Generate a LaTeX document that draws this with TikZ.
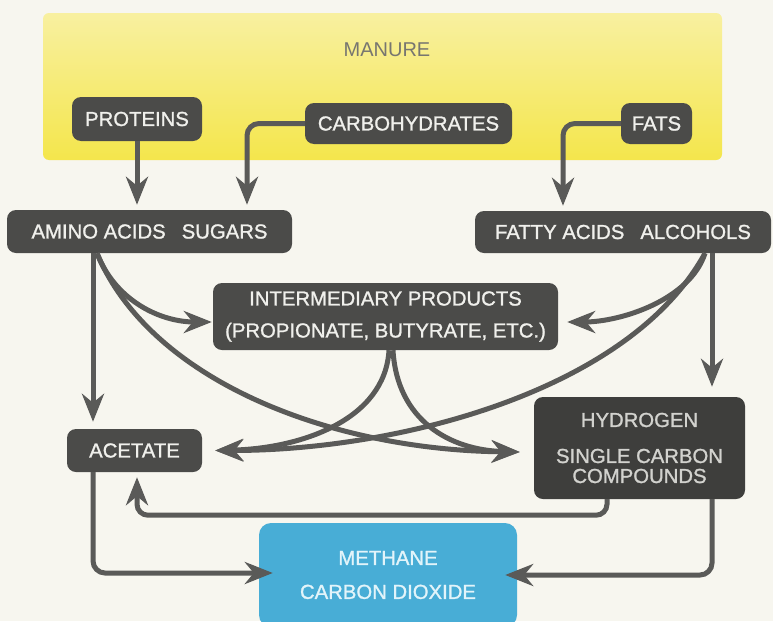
\documentclass[tikz,border=0pt]{standalone}
\usepackage{fontspec}
\setmainfont{Liberation Sans}
\newfontfamily\boxfont[FakeBold=1.2]{Liberation Sans}
\usetikzlibrary{arrows.meta,calc}
\definecolor{bg}{HTML}{F7F6EF}
\definecolor{boxg}{HTML}{4B4B49}
\definecolor{hydg}{HTML}{3E3E3C}
\definecolor{hydtext}{HTML}{D2D2CE}
\definecolor{boxtext}{HTML}{F0F0EC}
\definecolor{lineg}{HTML}{5A5A58}
\definecolor{ylwtop}{HTML}{F8F0A0}
\definecolor{ylwbot}{HTML}{F4E64C}
\definecolor{blu}{HTML}{48ADD6}
\definecolor{blutext}{HTML}{E2F4FA}
\definecolor{mantext}{HTML}{777670}
\begin{document}
\begin{tikzpicture}[x=1pt,y=-1pt,
  box/.style={draw=none, fill=boxg, rounded corners=9pt, text=boxtext,
    font=\boxfont\fontsize{20.3}{20}\selectfont, inner sep=0pt, align=center},
  arr/.style={draw=lineg, line width=5pt, -{Stealth[length=28pt,width=22pt,inset=9pt]}}]
\fill[bg] (0,0) rectangle (773,621);
\useasboundingbox (0,0) rectangle (773,621);
% manure
\node[draw=none, rounded corners=6pt, top color=ylwtop, bottom color=ylwbot,
  minimum width=679pt, minimum height=147pt, inner sep=0pt] (man) at (382.5,86.5) {};
\node[text=mantext, font=\fontsize{20}{20}\selectfont, inner sep=0pt] (mantxt) at (387,50) {MANURE};
% boxes
\node[box, minimum width=130pt, minimum height=44pt] (prot) at (137,119) {PROTEINS};
\node[box, minimum width=207pt, minimum height=41pt] (carb) at (408.5,123.5) {CARBOHYDRATES};
\node[box, minimum width=71pt, minimum height=41pt] (fats) at (656.5,123.5) {FATS};
\node[box, minimum width=285pt, minimum height=43pt] (amino) at (149.5,231.5) {AMINO ACIDS\hspace{16pt}SUGARS};
\node[box, minimum width=296pt, minimum height=42pt] (fatty) at (623,232) {FATTY ACIDS\hspace{16pt}ALCOHOLS};
\node[box, minimum width=345pt, minimum height=67pt, font=\boxfont\fontsize{20.3}{32}\selectfont] (inter) at (385.5,316.5) {INTERMEDIARY PRODUCTS\\(PROPIONATE, BUTYRATE, ETC.)};
\node[box, minimum width=135pt, minimum height=43pt] (acet) at (134.5,450.5) {ACETATE};
\node[box, fill=hydg, text=hydtext, minimum width=211pt, minimum height=102pt] (hyd) at (639.5,448) {HYDROGEN\\[16pt]SINGLE CARBON\\COMPOUNDS};
\node[box, fill=blu, text=blutext, rounded corners=12pt, minimum width=258pt, minimum height=104pt, font=\boxfont\fontsize{20.3}{34}\selectfont] (meth) at (388,575) {METHANE\\CARBON DIOXIDE};
% coordinates
\coordinate (aS1) at ($(amino.south)+(-56.5,0)$);
\coordinate (aS2) at ($(amino.south)+(-52.5,0)$);
\coordinate (fS1) at ($(fatty.south)+(82,0)$);
\coordinate (fS2) at ($(fatty.south)+(89,0)$);
\coordinate (iS1) at ($(inter.south)+(3.5,0)$);
\coordinate (iS2) at ($(inter.south)+(7.5,0)$);
\coordinate (interW) at ($(inter.west)+(-1,5.5)$);
\coordinate (interE) at ($(inter.east)+(9,5.5)$);
\coordinate (acetE) at ($(acet.east)+(13,0)$);
\coordinate (acetB) at ($(acet.south)+(2.5,5)$);
\coordinate (hydW) at ($(hyd.west)+(-14,4)$);
\coordinate (hS1) at ($(hyd.south)+(-32.5,0)$);
\coordinate (hS2) at ($(hyd.south)+(72.5,0)$);
\coordinate (methW) at ($(meth.west)+(14,-2)$);
\coordinate (methE) at ($(meth.east)+(-12,0)$);
% straight / elbow connectors
\draw[arr, shorten >=5pt] (prot.south) -- (prot.south |- amino.north);
\draw[arr, rounded corners=12pt, shorten >=5pt] (carb.west) -| ($(amino.north)+(97.5,0)$);
\draw[arr, rounded corners=12pt, shorten >=5pt] (fats.west) -| ($(fatty.north)+(-60,0)$);
\draw[arr, shorten >=10pt] (fS2) -- (fS2 |- hyd.north);
\draw[arr, shorten >=7pt] (aS1) -- (aS1 |- acet.north);
% curves
\draw[arr] (aS2) .. controls +(18,47) and +(-52,0) .. (interW);
\draw[arr] (aS2) .. controls +(53,127) and +(-190,-2) .. (hydW);
\draw[arr] (fS1) .. controls +(-15,47) and +(53,0) .. (interE);
\draw[arr] (fS1) .. controls +(-75,137) and +(185,0) .. (acetE);
\draw[arr] (iS1) .. controls +(-4,70) and +(85,-2) .. (acetE);
\draw[arr] (iS2) .. controls +(4,70) and +(-70,-2) .. (hydW);
% bottom connectors
\draw[arr, rounded corners=11pt] (hS1) |- ($(acetB)+(0,38)$) -- (acetB);
\draw[arr, rounded corners=12pt] ($(acet.south)+(-41.5,0)$) |- (methW);
\draw[arr, rounded corners=12pt] (hS2) |- (methE);
\end{tikzpicture}
\end{document}
